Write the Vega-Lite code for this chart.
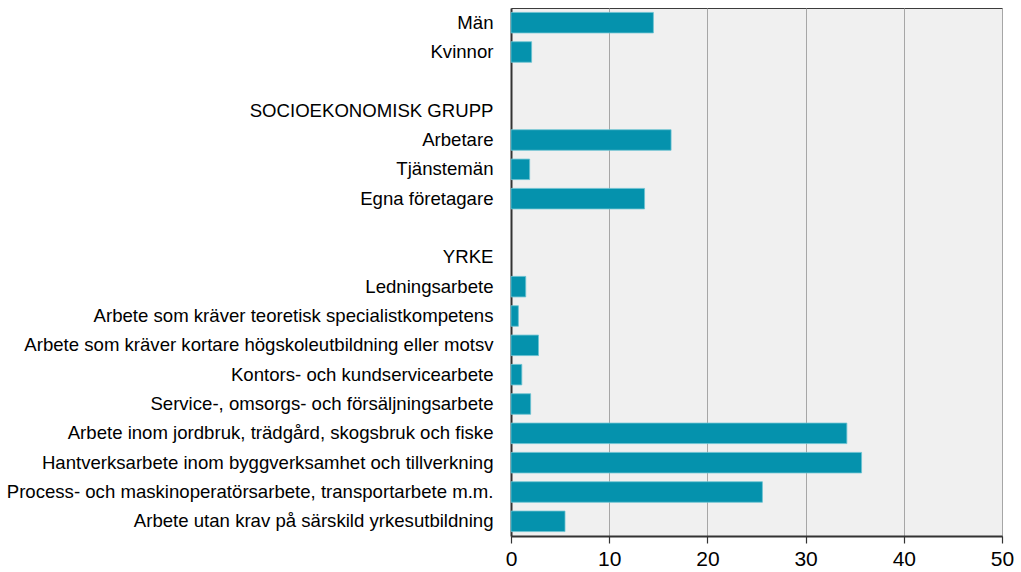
{
  "$schema": "https://vega.github.io/schema/vega-lite/v6.json",
  "width": 491,
  "height": 528,
  "autosize": {"type": "none"},
  "padding": {"left": 511, "top": 8, "right": 19, "bottom": 36},
  "background": "white",
  "config": {
    "view": {"fill": "#f0f0f0", "stroke": "#3c3c3c", "strokeWidth": 1},
    "font": "Liberation Sans"
  },
  "data": {
    "values": [
      {"kategori": "Män", "andel": 14.5},
      {"kategori": "Kvinnor", "andel": 2.1},
      {"kategori": "\u00a0", "andel": null},
      {"kategori": "SOCIOEKONOMISK GRUPP", "andel": null},
      {"kategori": "Arbetare", "andel": 16.3},
      {"kategori": "Tjänstemän", "andel": 1.9},
      {"kategori": "Egna företagare", "andel": 13.6},
      {"kategori": "\u00a0\u00a0", "andel": null},
      {"kategori": "YRKE", "andel": null},
      {"kategori": "Ledningsarbete", "andel": 1.5},
      {"kategori": "Arbete som kräver teoretisk specialistkompetens", "andel": 0.75},
      {"kategori": "Arbete som kräver kortare högskoleutbildning eller motsv", "andel": 2.8},
      {"kategori": "Kontors- och kundservicearbete", "andel": 1.1},
      {"kategori": "Service-, omsorgs- och försäljningsarbete", "andel": 2.0},
      {"kategori": "Arbete inom jordbruk, trädgård, skogsbruk och fiske", "andel": 34.2},
      {"kategori": "Hantverksarbete inom byggverksamhet och tillverkning", "andel": 35.7},
      {"kategori": "Process- och maskinoperatörsarbete, transportarbete m.m.", "andel": 25.6},
      {"kategori": "Arbete utan krav på särskild yrkesutbildning", "andel": 5.5}
    ]
  },
  "mark": {"type": "bar", "color": "#0592ad", "stroke": "#6cc3d2", "strokeWidth": 0.8},
  "encoding": {
    "y": {
      "field": "kategori",
      "type": "nominal",
      "title": null,
      "scale": {
        "domain": [
          "Män", "Kvinnor", "\u00a0", "SOCIOEKONOMISK GRUPP", "Arbetare", "Tjänstemän", "Egna företagare", "\u00a0\u00a0", "YRKE",
          "Ledningsarbete", "Arbete som kräver teoretisk specialistkompetens", "Arbete som kräver kortare högskoleutbildning eller motsv",
          "Kontors- och kundservicearbete", "Service-, omsorgs- och försäljningsarbete", "Arbete inom jordbruk, trädgård, skogsbruk och fiske",
          "Hantverksarbete inom byggverksamhet och tillverkning", "Process- och maskinoperatörsarbete, transportarbete m.m.", "Arbete utan krav på särskild yrkesutbildning"
        ],
        "paddingInner": 0.3,
        "paddingOuter": 0.15
      },
      "axis": {
        "ticks": false,
        "grid": false,
        "domain": true,
        "domainColor": "#333333",
        "domainWidth": 2,
        "labelFont": "Liberation Sans",
        "labelFontSize": 18.6,
        "labelColor": "#000000",
        "labelPadding": 18,
        "labelLimit": 600,
        "encode": {
          "labels": {
            "update": {
              "dx": {"signal": "datum.value === 'Män' || datum.value === 'Kvinnor' ? -5 : (datum.value === 'Tjänstemän' ? -10 : 0)"}
            }
          }
        }
      }
    },
    "x": {
      "field": "andel",
      "type": "quantitative",
      "title": null,
      "scale": {"domain": [0, 50], "nice": false},
      "axis": {
        "values": [0, 10, 20, 30, 40, 50],
        "grid": true,
        "gridColor": "#a6a6a6",
        "gridWidth": 1,
        "domainColor": "#333333",
        "domainWidth": 2,
        "tickColor": "#333333",
        "tickSize": 7,
        "tickWidth": 1.2,
        "labelFont": "Liberation Sans",
        "labelFontSize": 21,
        "labelColor": "#000000",
        "labelPadding": 5,
        "labelFlush": false
      }
    }
  }
}
